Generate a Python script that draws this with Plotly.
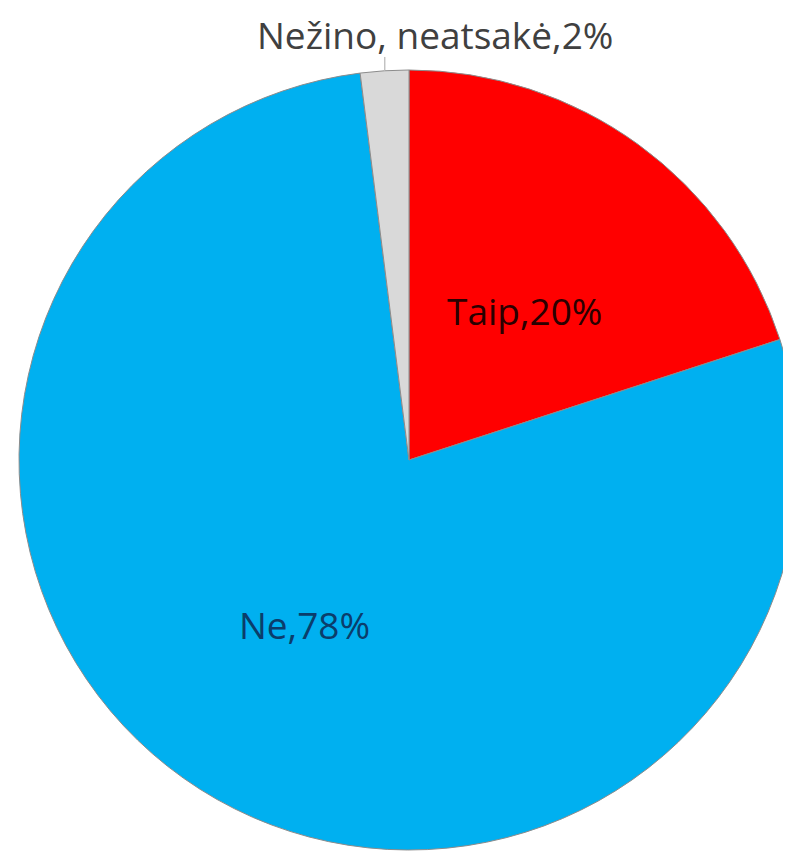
import plotly.graph_objects as go

labels = ["Taip", "Ne", "Nežino, neatsakė"]
values = [20, 78, 2]
colors = ["#FF0000", "#00B0F0", "#D9D9D9"]
text_colors = ["#2a0000", "#0b3d6b", "#404040"]
positions = ["none", "inside", "none"]

fig = go.Figure(go.Pie(
    labels=labels,
    values=values,
    sort=False,
    direction="clockwise",
    rotation=0,
    marker=dict(colors=colors, line=dict(color="#8c8c8c", width=1)),
    texttemplate="%{label},%{value}%",
    textposition=positions,
    insidetextorientation="horizontal",
    textfont=dict(family="Open Sans", size=37, color=text_colors),
    showlegend=False,
    hoverinfo="skip",
))

# label for the red slice, placed as in the original
fig.add_annotation(
    text=f"{labels[0]},{values[0]}%",
    x=0.6487, y=0.6923, xref="paper", yref="paper",
    xanchor="center", yanchor="middle", showarrow=False,
    font=dict(family="Open Sans", size=37, color=text_colors[0]),
)

# outside label with leader line for the small slice
fig.add_annotation(
    text=f"{labels[2]},{values[2]}%",
    x=0.5333, y=1.0449, xref="paper", yref="paper",
    xanchor="center", yanchor="middle", showarrow=False,
    font=dict(family="Open Sans", size=37, color=text_colors[2]),
)
fig.add_shape(
    type="line", xref="paper", yref="paper",
    x0=0.469, x1=0.469, y0=1.0, y1=1.0167,
    line=dict(color="#a6a6a6", width=1),
)

fig.update_layout(
    width=791,
    height=852,
    margin=dict(l=11, r=0, t=62, b=10, autoexpand=False),
    paper_bgcolor="white",
    plot_bgcolor="white",
)

fig.write_html("out.html")
